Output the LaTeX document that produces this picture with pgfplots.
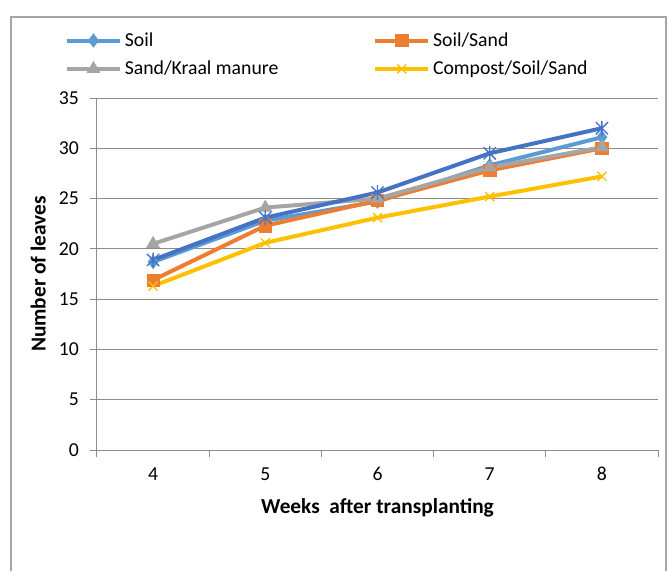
\documentclass[border=0pt]{standalone}
\usepackage{pgfplots}
\pgfplotsset{compat=1.18}
\usepackage{fontspec}
\setmainfont{Carlito}
\usetikzlibrary{plotmarks}
\pgfdeclareplotmark{xstar}{%
  \pgfpathmoveto{\pgfqpoint{-\pgfplotmarksize}{-\pgfplotmarksize}}%
  \pgfpathlineto{\pgfqpoint{\pgfplotmarksize}{\pgfplotmarksize}}%
  \pgfpathmoveto{\pgfqpoint{-\pgfplotmarksize}{\pgfplotmarksize}}%
  \pgfpathlineto{\pgfqpoint{\pgfplotmarksize}{-\pgfplotmarksize}}%
  \pgfpathmoveto{\pgfqpoint{0pt}{-1.2\pgfplotmarksize}}%
  \pgfpathlineto{\pgfqpoint{0pt}{1.2\pgfplotmarksize}}%
  \pgfusepathqstroke}
\definecolor{cSoil}{HTML}{5B9BD5}
\definecolor{cSS}{HTML}{ED7D31}
\definecolor{cSK}{HTML}{A5A5A5}
\definecolor{cCSS}{HTML}{FFC000}
\definecolor{cDB}{HTML}{4472C4}
\definecolor{cGrid}{HTML}{8C8C8C}
\definecolor{cFrame}{HTML}{A6A6A6}
\begin{document}
\begin{tikzpicture}
\useasboundingbox (-72.75pt,-90.75pt) rectangle (427.5pt,337.5pt);
\draw[cFrame, line width=1pt] (-64.5pt,-91pt) -- (-64.5pt,324.75pt) -- (426.75pt,324.75pt) -- (426.75pt,-91pt);
\begin{axis}[
  at={(0pt,0pt)}, anchor=origin,
  scale only axis, width=420.75pt, height=264pt,
  xmin=0.5, xmax=5.5, ymin=0, ymax=35,
  axis x line=bottom, axis y line=left,
  axis line style={cGrid, line width=0.75pt, -},
  xtick={1,2,3,4,5}, xticklabels={4,5,6,7,8},
  major x tick style={draw=none},
  minor xtick={0.5,1.5,2.5,3.5,4.5,5.5},
  minor x tick style={cGrid, line width=0.75pt},
  minor tick length=5pt,
  ytick={0,5,...,35},
  major y tick style={cGrid, line width=0.75pt},
  major tick length=5pt,
  tick align=outside,
  ymajorgrids, grid style={cGrid, line width=0.75pt},
  tick label style={font=\fontsize{14.8}{17}\selectfont, text=black},
  xticklabel style={yshift=-4.5pt},
  yticklabel style={xshift=-5pt},
  /pgf/number format/assume math mode=true,
  xlabel={\textbf{Weeks\ \ after transplanting}},
  ylabel={\textbf{Number of leaves}},
  label style={font=\fontsize{16}{19}\selectfont},
  xlabel style={at={(axis description cs:0.5,-0.165)}, anchor=center},
  ylabel style={at={(axis description cs:-0.105,0.5)}, anchor=center, rotate=0},
  legend columns=2,
  legend style={draw=none, fill=none, at={(axis description cs:-0.065,1.2015)}, anchor=north west,
    font=\fontsize{14.8}{17}\selectfont, cells={anchor=west}, row sep=5.5pt,
    /tikz/column 2/.style={column sep=69pt}},
  legend image code/.code={\draw[mark repeat=2,mark phase=2,#1] plot coordinates {(0pt,0pt)(20pt,0pt)(40pt,0pt)};},
  every axis plot/.append style={line width=3pt},
]
\addplot[color=cSoil, mark=diamond*, mark size=5pt, mark options={solid, fill=cSoil, line width=0.5pt}]
  coordinates {(1,18.7) (2,22.8) (3,24.7) (4,28.3) (5,31.1)};
\addlegendentry{Soil}
\addplot[color=cSS, mark=square*, mark size=4.6pt, mark options={solid, fill=cSS, line width=0.5pt}]
  coordinates {(1,16.9) (2,22.3) (3,24.8) (4,27.8) (5,30.0)};
\addlegendentry{Soil/Sand}
\addplot[color=cSK, mark=triangle*, mark size=5.5pt, mark options={solid, fill=cSK, line width=0.5pt}]
  coordinates {(1,20.5) (2,24.1) (3,25.0) (4,28.1) (5,30.1)};
\addlegendentry{Sand/Kraal manure}
\addplot[color=cCSS, mark=x, mark size=4.8pt, mark options={solid, line width=1pt}]
  coordinates {(1,16.3) (2,20.6) (3,23.1) (4,25.2) (5,27.2)};
\addlegendentry{Compost/Soil/Sand}
\addplot[color=cDB, mark=xstar, mark size=4.6pt, mark options={solid, line width=1pt}, forget plot]
  coordinates {(1,18.9) (2,23.1) (3,25.6) (4,29.5) (5,32.0)};
\end{axis}
\end{tikzpicture}
\end{document}
